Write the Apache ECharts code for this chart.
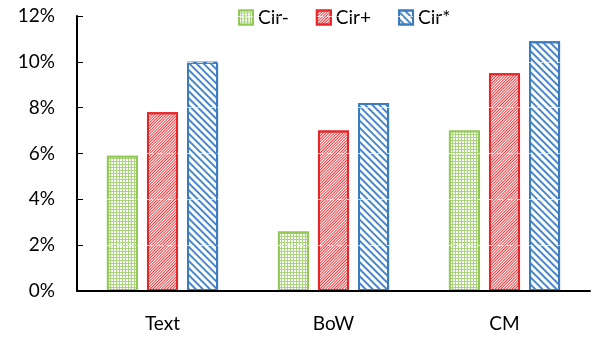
<!DOCTYPE html>
<html><head><meta charset="utf-8">
<script src="https://cdn.jsdelivr.net/npm/echarts@6/dist/echarts.min.js"></script>
<style>html,body{margin:0;padding:0;background:#fff}#c{width:592px;height:341px}</style>
</head><body><div id="c"></div>
<script>
const categories = ['Text', 'BoW', 'CM'];
const seriesNames = ['Cir-', 'Cir+', 'Cir*'];
const cirMinus = [5.9, 2.6, 7.0];
const cirPlus = [7.8, 7.0, 9.5];
const cirStar = [10.0, 8.2, 10.9];
const yTicks = [0, 2, 4, 6, 8, 10, 12];

const FONT = 'Lato';
const chart = echarts.init(document.getElementById('c'), null, {renderer: 'canvas'});
const styles = [
  {border: '#92c956', decal: {symbol: 'rect', symbolSize: 1, color: '#ffffff', backgroundColor: '#a9d67a', dashArrayX: [2, 1], dashArrayY: [2, 1], rotation: 0}},
  {border: '#e8262a', decal: {symbol: 'rect', symbolSize: 1, color: '#ee3b3f', dashArrayX: [1, 0], dashArrayY: [1, 1], rotation: -Math.PI / 4}},
  {border: '#3b7cc0', decal: {symbol: 'rect', symbolSize: 1, color: '#4a88c8', dashArrayX: [1, 0], dashArrayY: [2, 2.5], rotation: Math.PI / 4}}
];
const data = [cirMinus, cirPlus, cirStar];
chart.setOption({
  animation: false,
  backgroundColor: '#fff',
  textStyle: {fontFamily: FONT},
  legend: {
    top: 3, left: 233, itemWidth: 14, itemHeight: 14, itemGap: 27,
    icon: 'rect',
    textStyle: {fontFamily: FONT, fontSize: 19, color: '#000'},
    data: seriesNames
  },
  grid: {left: 77, right: 2, top: 16, bottom: 50},
  xAxis: {
    type: 'category', data: categories, z: 6,
    axisLine: {lineStyle: {color: '#000', width: 2}},
    axisTick: {inside: true, length: 6, lineStyle: {color: '#000', width: 1}},
    axisLabel: {fontFamily: FONT, fontSize: 19, color: '#000', margin: 23}
  },
  yAxis: {
    type: 'value', min: 0, max: 12, interval: 2, z: 5,
    axisLine: {show: true, lineStyle: {color: '#000', width: 2}},
    axisTick: {show: true, inside: true, length: 6, lineStyle: {color: '#000', width: 1}},
    splitLine: {show: true, lineStyle: {color: 'rgba(255,255,255,0.7)', width: 1, type: [6, 4]}},
    axisLabel: {fontFamily: FONT, fontSize: 19, color: '#000', margin: 22,
      formatter: v => yTicks.includes(v) ? v + '%' : ''}
  },
  series: seriesNames.map((n, i) => ({
    name: n, type: 'bar', data: data[i],
    barGap: '29%', barCategoryGap: '35%',
    itemStyle: {color: '#fff', borderColor: styles[i].border, borderWidth: 2, decal: styles[i].decal}
  }))
});
</script></body></html>
